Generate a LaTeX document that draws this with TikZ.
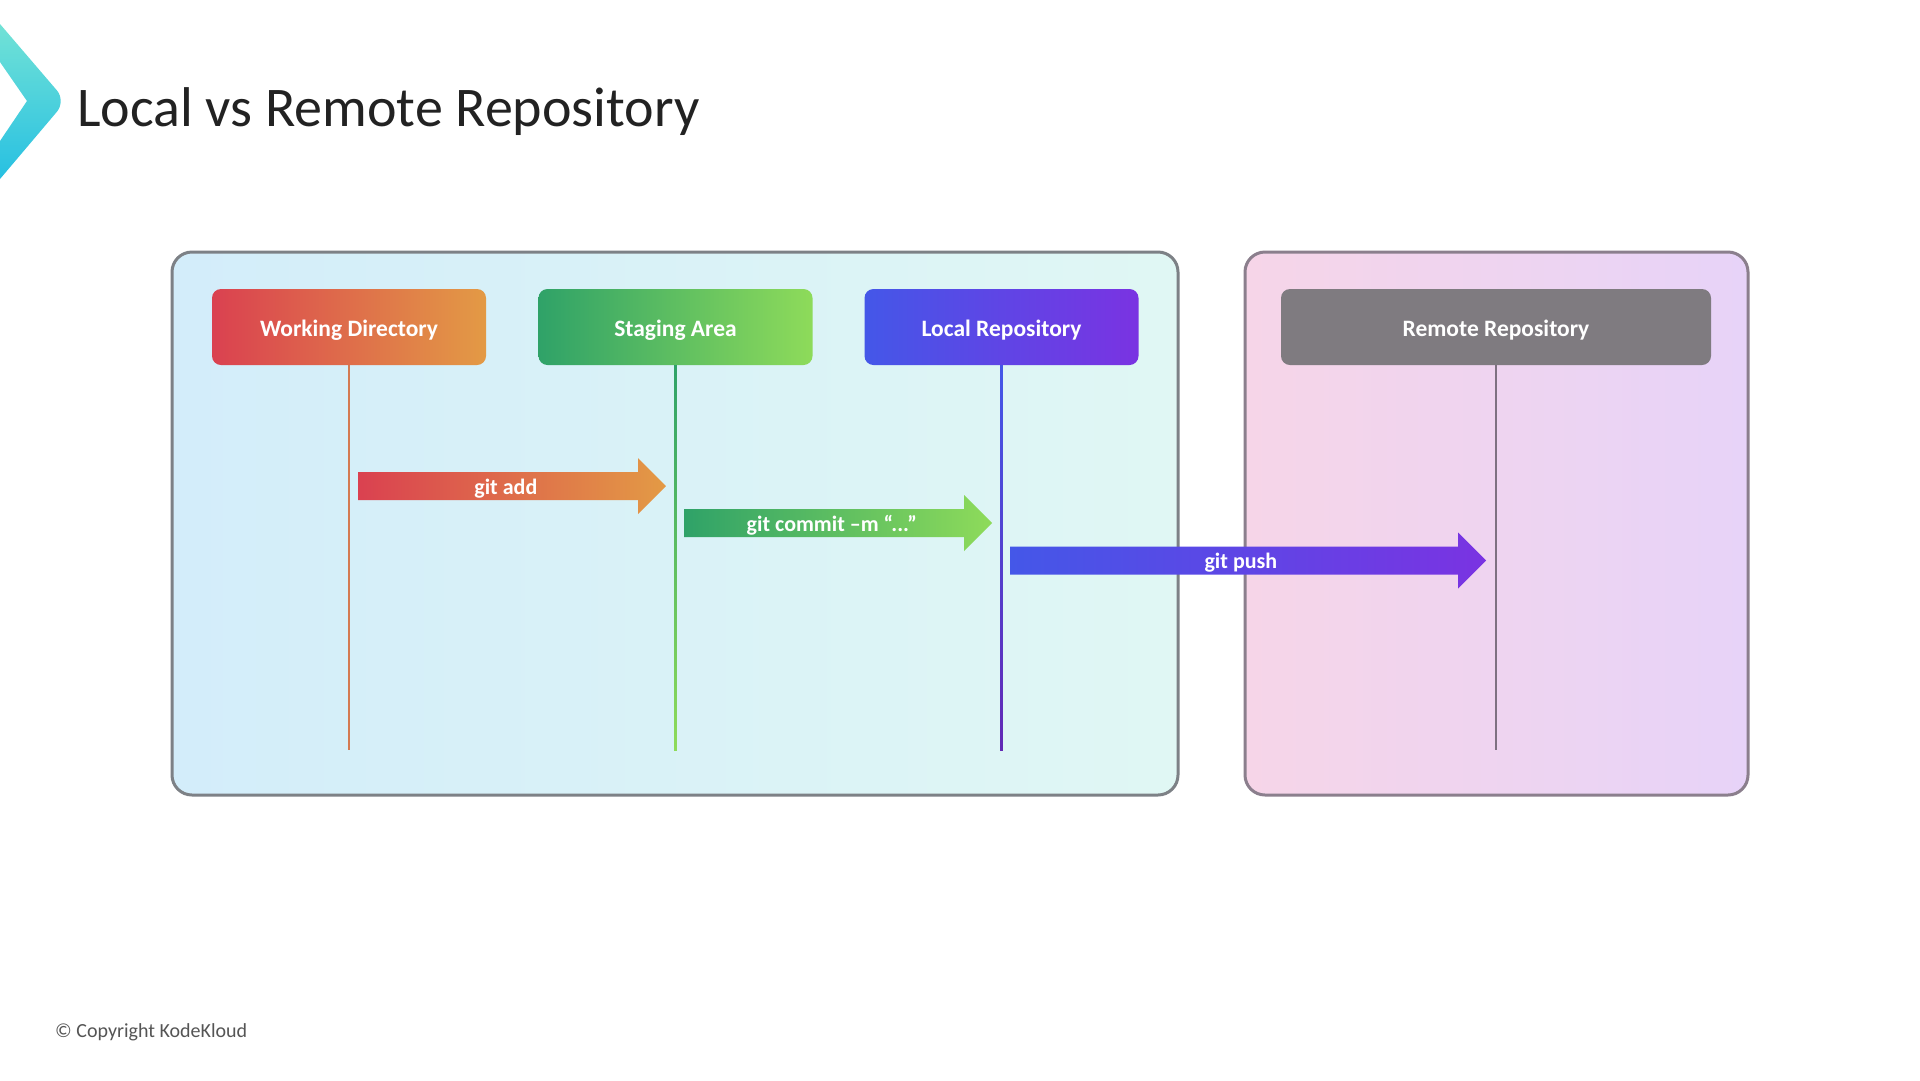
\documentclass[tikz,border=0pt]{standalone}
\usepackage{fontspec}
\setmainfont{Carlito}
\usetikzlibrary{calc}
\definecolor{wdA}{HTML}{DA4150}
\definecolor{wdB}{HTML}{E39A45}
\definecolor{saA}{HTML}{2FA268}
\definecolor{saB}{HTML}{8EDB5A}
\definecolor{lrA}{HTML}{4457E8}
\definecolor{lrB}{HTML}{7A33E2}
\definecolor{rrC}{HTML}{7F7B80}
\definecolor{lcA}{HTML}{D3EDFA}
\definecolor{lcB}{HTML}{E0F7F4}
\definecolor{rcA}{HTML}{F6D5E8}
\definecolor{rcB}{HTML}{E7D3F8}
\definecolor{lcBorder}{HTML}{7D8186}
\definecolor{rcBorder}{HTML}{8B7F8D}
\definecolor{chevA}{HTML}{72E2D6}
\definecolor{chevB}{HTML}{27C0E2}
\definecolor{titleC}{HTML}{222222}
\definecolor{copyC}{HTML}{555555}
\definecolor{wdLine}{HTML}{D47A52}
\definecolor{rrLine}{HTML}{7E7181}
\newcommand\fatarrow[4]{%
  \shade[left color=#3,right color=#4]
    ($(#1)+(0,-14)$) -- ($(#2)+(-28,-14)$) -- ($(#2)+(-28,-28)$) -- (#2)
    -- ($(#2)+(-28,28)$) -- ($(#2)+(-28,14)$) -- ($(#1)+(0,14)$) -- cycle;}
\begin{document}
\begin{tikzpicture}[x=1pt,y=-1pt,
  container/.style={draw, line width=3, rounded corners=20, minimum height=543, inner sep=0},
  hdr/.style={rounded corners=9, minimum width=274, minimum height=76, inner sep=0},
  hdrtext/.style={text=white, font=\fontsize{23.5}{27}\selectfont\bfseries, inner sep=0},
  alabel/.style={text=white, font=\fontsize{22}{25}\selectfont\bfseries, inner sep=0}]
\useasboundingbox (0,0) rectangle (1920,1080);
\fill[white] (0,0) rectangle (1920,1080);

% chevron
\shade[top color=chevA, bottom color=chevB]
  (0,24) [rounded corners=14] -- (66,101) [sharp corners] -- (0,179) -- (0,141) -- (27,101) -- (0,62) -- cycle;

% title
\node[anchor=base west, text=titleC, font=\fontsize{56}{60}\selectfont, inner sep=0] (title) at (77,126) {Local vs Remote Repository};

% containers
\node[container, draw=lcBorder, left color=lcA, right color=lcB, minimum width=1006] (local) at (675,523.5) {};
\node[container, draw=rcBorder, left color=rcA, right color=rcB, minimum width=503] (remote) at (1496.5,523.5) {};

% header boxes
\node[hdr, left color=wdA, right color=wdB] (wd) at (349,327) {};
\node[hdr, left color=saA, right color=saB] (sa) at (675.5,327) {};
\node[hdr, left color=lrA, right color=lrB] (lr) at (1001.5,327) {};
\node[hdr, fill=rrC, minimum width=430] (rr) at (1496,327) {};
\node[hdrtext] (wdt) at ($(wd.center)+(0,3)$) {Working Directory};
\node[hdrtext] (sat) at ($(sa.center)+(0,3)$) {Staging Area};
\node[hdrtext] (lrt) at ($(lr.center)+(0,3)$) {Local Repository};
\node[hdrtext] (rrt) at ($(rr.center)+(0,3)$) {Remote Repository};

% lifeline ends
\coordinate (wdE) at (349,750);
\coordinate (saE) at (675.5,750);
\coordinate (lrE) at (1001.5,750);
\coordinate (rrE) at (1496,750);

\draw[wdLine, line width=2.5] (wd.south) -- (wdE);
\shade[top color=saA, bottom color=saB] ($(sa.south)+(-1.3,0)$) rectangle ($(saE)+(1.3,0)$);
\shade[top color=lrA, bottom color=lrB!80!black] ($(lr.south)+(-1.3,0)$) rectangle ($(lrE)+(1.3,0)$);
\draw[rrLine, line width=2.5] (rr.south) -- (rrE);

% arrows
\coordinate (ga1) at (358,486);
\coordinate (ga2) at (666,486);
\coordinate (gc1) at (684,523);
\coordinate (gc2) at (992,523);
\coordinate (gp1) at (1010,560.5);
\coordinate (gp2) at (1486,560.5);
\fatarrow{ga1}{ga2}{wdA}{wdB}
\fatarrow{gc1}{gc2}{saA}{saB}
\fatarrow{gp1}{gp2}{lrA}{lrB}
\node[alabel] (gal) at ($($(ga1)!0.48!(ga2)$)+(0,2.5)$) {git add};
\node[alabel] (gcl) at ($($(gc1)!0.48!(gc2)$)+(0,2.5)$) {git commit –m “...”};
\node[alabel] (gpl) at ($($(gp1)!0.485!(gp2)$)+(0,2.5)$) {git push};

% copyright
\node[anchor=base west, text=copyC, font=\fontsize{20}{23}\selectfont, inner sep=0] (copy) at (55,1037) {© Copyright KodeKloud};
\end{tikzpicture}
\end{document}
